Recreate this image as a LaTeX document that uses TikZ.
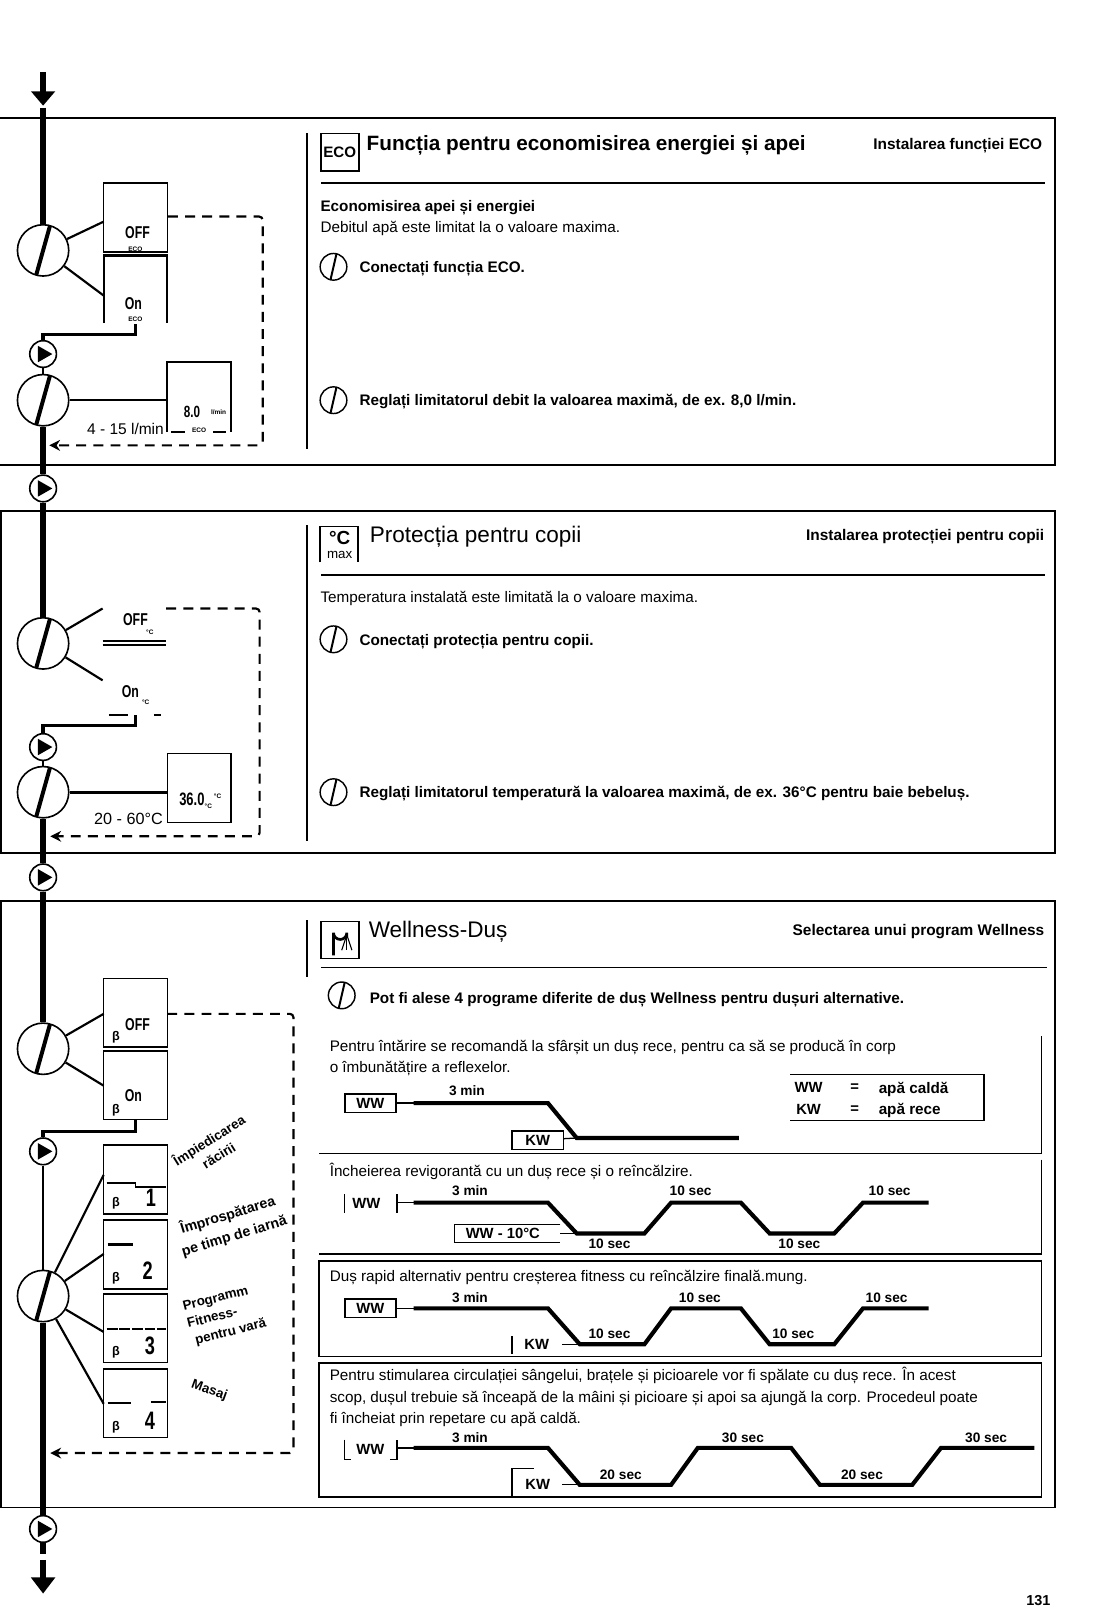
\documentclass[tikz,border=0pt]{standalone}
\usepackage{fontspec}
\setmainfont{Liberation Sans}
\newfontfamily\lcdfont[FakeStretch=0.72]{Liberation Sans}
\usetikzlibrary{arrows.meta, positioning, calc}
\tikzset{
  framebox/.style={draw, line width=0.9pt},
  trunk/.style={line width=2.9pt},
  thinlink/.style={line width=1.2pt},
  dashback/.style={line width=1.2pt, dash pattern=on 5.5pt off 4pt, rounded corners=2pt, -{Stealth[length=6pt,width=6pt]}},
  knob/.style={circle, draw, line width=0.9pt, minimum size=1cm, inner sep=0pt,
    path picture={\draw[line width=2.2pt] ($(path picture bounding box.center)+(7,-25)$) -- ($(path picture bounding box.center)+(-7,25)$);}},
  smallknob/.style={circle, draw, line width=0.8pt, minimum size=0.52cm, inner sep=0pt,
    path picture={\draw[line width=1.1pt] ($(path picture bounding box.center)+(3,-13)$) -- ($(path picture bounding box.center)+(-3,13)$);}},
  playbtn/.style={circle, draw, fill=white, line width=0.9pt, minimum size=0.52cm, inner sep=0pt,
    path picture={\fill[black] ($(path picture bounding box.center)+(-5,-8)$) -- ++(14,8) -- ++(-14,8) -- cycle;}},
  lcdbox/.style={draw, line width=0.8pt, minimum width=1.24cm, minimum height=1.34cm, inner sep=0pt},
  lcdtxt/.style={inner sep=0pt, font=\lcdfont\bfseries\fontsize{9.5}{10}\selectfont},
  lcdnum/.style={inner sep=0pt, font=\lcdfont\bfseries\fontsize{14}{14}\selectfont},
  lcdtiny/.style={inner sep=0pt, font=\bfseries\fontsize{3.6}{4}\selectfont},
  lcdsym/.style={inner sep=0pt, font=\bfseries\fontsize{7}{8}\selectfont},
  lcdbar/.style={line width=1pt},
  plaintxt/.style={anchor=west, inner sep=0pt, text height=1.5ex, text depth=.3ex, font=\fontsize{8.47}{10}\selectfont},
  boldtxt/.style={plaintxt, font=\bfseries\fontsize{8.47}{10}\selectfont},
  headtxt/.style={anchor=east, inner sep=0pt, font=\bfseries\fontsize{8.55}{10}\selectfont},
  titletxt/.style={anchor=west, inner sep=0pt, font=\fontsize{12.5}{14}\selectfont},
  notetxt/.style={inner sep=0pt, align=center, font=\bfseries\fontsize{7.4}{10}\selectfont},
  timetxt/.style={inner sep=0pt, font=\bfseries\fontsize{7.6}{9}\selectfont},
  tagtxt/.style={inner sep=0pt, font=\bfseries\fontsize{8.2}{9}\selectfont},
  tagbox/.style={draw, line width=0.8pt, inner sep=0pt, minimum width=1cm, minimum height=0.36cm, font=\bfseries\fontsize{8.2}{9}\selectfont},
  wave/.style={line width=2.3pt, line join=miter},
  tagline/.style={line width=0.7pt},
}
\begin{document}
\begin{tikzpicture}[x=0.02cm,y=-0.02cm]
  \useasboundingbox (0,0) rectangle (1073,1568);
  \draw[framebox] (0,115) -- (1028,115) -- (1028,453) -- (0,453);
  \draw[framebox] (1,498) rectangle (1028,831);
  \draw[framebox] (1,878) rectangle (1028,1469);
  \coordinate (entry) at (42,70);
  \coordinate (entrytip) at (42,103);
  \coordinate (trunktop) at (42,105);
  \node[knob] (k1) at (42,244) {};
  \node[knob] (k2) at (42,390) {};
  \node[playbtn] (p1) at (42,345) {};
  \node[playbtn] (p2) at (42,476) {};
  \node[knob] (k3) at (42,627) {};
  \node[knob] (k4) at (42,772) {};
  \node[playbtn] (p3) at (42,728) {};
  \node[playbtn] (p4) at (42,855) {};
  \node[knob] (k5) at (42,1022) {};
  \node[knob] (k6) at (42,1263) {};
  \node[playbtn] (p5) at (42,1122) {};
  \node[playbtn] (p6) at (42,1490) {};
  \coordinate (exitstub) at (42,1514);
  \coordinate (exitstart) at (42,1520);
  \coordinate (exittip) at (42,1553);
  \draw[trunk, -{Triangle[length=8pt,width=13pt]}] (entry) -- (entrytip);
  \draw[trunk] (trunktop) -- (k1);
  \draw[trunk] (k2) -- (p2);
  \draw[trunk] (p2) -- (k3);
  \draw[thinlink] (p1) -- (k2);
  \draw[thinlink] (p3) -- (k4);
  \draw[trunk] (k4) -- (p4);
  \draw[trunk] (p4) -- (k5);
  \draw[thinlink] (p5) -- (k6);
  \draw[trunk] (k6) -- (p6);
  \draw[trunk] (p6) -- (exitstub);
  \draw[trunk, -{Triangle[length=9pt,width=13pt]}] (exitstart) -- (exittip);

  \node[lcdbox] (ecooff) at (132,212) {};
  \coordinate (ecoontl) at (101,249);
  \coordinate (ecoontr) at (163,249);
  \coordinate (ecoonbl) at (101,315);
  \coordinate (ecoonbr) at (163,315);
  \draw[thinlink] (ecoonbl) -- (ecoontl) -- (ecoontr) -- (ecoonbr);
  \node[lcdtxt] (ecoofftxt) at (134,227) {OFF};
  \node[lcdtiny] (ecoofftag) at (132,243) {ECO};
  \node[lcdtxt] (ecoontxt) at (130,296) {On};
  \node[lcdtiny] (ecoontag) at (132,311) {ECO};
  \coordinate (ecoonin) at (101,288);
  \coordinate (ecooffin) at (101,216);
  \draw[thinlink] (k1) -- (ecooffin);
  \draw[thinlink] (k1) -- (ecoonin);
  \coordinate (ecosrc) at (132,316);
  \draw[trunk, line width=1.8pt] (ecosrc) -- (132,326) -| (p1);
  \coordinate (flowtl) at (163,353);
  \coordinate (flowtr) at (225,353);
  \coordinate (flowbl) at (163,421);
  \coordinate (flowbr) at (225,421);
  \draw[thinlink] (flowbl) -- (flowtl) -- (flowtr) -- (flowbr);
  \draw[lcdbar] (167,421) -- (180,421);
  \draw[lcdbar] (208,421) -- (220,421);
  \coordinate (flowin) at (163,390);
  \draw[thinlink] (k2) -- (flowin);
  \node[lcdtxt, font=\lcdfont\bfseries\fontsize{9}{10}\selectfont] (flowval) at (187,401) {8.0};
  \node[lcdtiny] (flowunit) at (213,402) {l/min};
  \node[lcdtiny] (flowtag) at (194,419) {ECO};
  \node[anchor=east, inner sep=0pt, font=\fontsize{8.6}{9}\selectfont] (flowrange) at (160,418) {4 - 15 l/min};
  \coordinate (ecoback) at (48,434);
  \draw[dashback] (ecooff.east |- 0,211) -| (256,434) -- (ecoback);

  \draw[framebox] (299,130) -- (299,438);
  \node[draw, line width=1pt, minimum size=0.74cm, inner sep=0pt, font=\bfseries\fontsize{8.4}{9}\selectfont] (ecoicon) at (331,148.5) {ECO};
  \node[titletxt, font=\bfseries\fontsize{11.5}{14}\selectfont] (ecotitle) at (357,142) {Funcția pentru economisirea energiei și apei};
  \node[headtxt] (ecohead) at (1016,142) {Instalarea funcției ECO};
  \draw[framebox, line width=1.1pt] (313,178) -- (1018,178);
  \node[boldtxt] (ecosub) at (312,201) {Economisirea apei și energiei};
  \node[plaintxt] (ecobody) at (312,221) {Debitul apă este limitat la o valoare maxima.};
  \node[smallknob] (ecok1) at (325,260) {};
  \node[boldtxt] (ecostep1) at (350,260) {Conectați funcția ECO.};
  \node[smallknob] (ecok2) at (325,390) {};
  \node[boldtxt] (ecostep2) at (350,390) {Reglați limitatorul debit la valoarea maximă, de ex. 8,0 l/min.};

  \coordinate (kidoffin) at (100,593);
  \coordinate (kidonin) at (100,663);
  \draw[thinlink] (k3) -- (kidoffin);
  \draw[thinlink] (k3) -- (kidonin);
  \node[lcdtxt] (kidofftxt) at (132,604) {OFF};
  \node[lcdtiny] (kidofftag) at (146,616) {°C};
  \draw[thinlink] (100,625) -- (162,625);
  \draw[thinlink] (100,628.5) -- (162,628.5);
  \node[lcdtxt] (kidontxt) at (127,674) {On};
  \node[lcdtiny] (kidontag) at (142,684) {°C};
  \draw[lcdbar] (106,697) -- (125,697);
  \draw[lcdbar] (150,697) -- (157,697);
  \coordinate (kidsrc) at (132,697);
  \draw[trunk, line width=1.8pt] (kidsrc) -- (132,707) -| (p3);
  \node[lcdbox] (kidset) at (194,768) {};
  \draw[trunk, line width=1.8pt] (k4) -- (kidset.west |- k4);
  \node[lcdtxt, font=\lcdfont\bfseries\fontsize{10}{10}\selectfont] (kidval) at (187,779) {36.0};
  \node[lcdtiny] (kidunit) at (212,776) {°C};
  \node[lcdtiny] (kidtag) at (203,786) {°C};
  \node[anchor=east, inner sep=0pt, font=\fontsize{9}{9}\selectfont] (kidrange) at (159,798) {20 - 60°C};
  \coordinate (kidback) at (49,815);
  \coordinate (kidstart) at (162,593);
  \draw[dashback] (kidstart) -| (253,815) -- (kidback);

  \draw[framebox] (299,512) -- (299,820);
  \coordinate (kidicontl) at (312,513);
  \draw[line width=1pt] (312,548) -- (kidicontl) -- (349,513) -- (349,548);
  \node[inner sep=0pt, font=\bfseries\fontsize{10.5}{11}\selectfont] (kidicondeg) at (331,524) {°C};
  \node[inner sep=0pt, font=\fontsize{7.4}{8}\selectfont] (kidiconmax) at (331,541) {max};
  \node[titletxt] (kidtitle) at (360,523) {Protecția pentru copii};
  \node[headtxt] (kidhead) at (1018,523) {Instalarea protecției pentru copii};
  \draw[framebox, line width=1.2pt] (313,560) -- (1018,560);
  \node[plaintxt] (kidbody) at (312,582) {Temperatura instalată este limitată la o valoare maxima.};
  \node[smallknob] (kidk1) at (325,623) {};
  \node[boldtxt] (kidstep1) at (350,623) {Conectați protecția pentru copii.};
  \node[smallknob] (kidk2) at (325,772) {};
  \node[boldtxt] (kidstep2) at (350,772) {Reglați limitatorul temperatură la valoarea maximă, de ex. 36°C pentru baie bebeluș.};

  \node[lcdbox] (welloff) at (132,987) {};
  \node[lcdbox] (wellon) at (132,1057.5) {};
  \coordinate (welloffin) at (101,988);
  \coordinate (wellonin) at (101,1058);
  \draw[thinlink] (k5) -- (welloffin);
  \draw[thinlink] (k5) -- (wellonin);
  \node[lcdtxt] (wellofftxt) at (134,998) {OFF};
  \node[lcdtxt] (wellontxt) at (130,1068) {On};
  \node[lcdsym] (welloffsym) at (113,1011) {β};
  \node[lcdsym] (wellonsym) at (113,1082) {β};
  \draw[trunk, line width=1.8pt] (wellon.south) -- (132,1103) -| (p5);
  \node[lcdbox] (prog1) at (132,1149.5) {};
  \node[lcdbox] (prog2) at (132,1222.5) {};
  \node[lcdbox] (prog3) at (132,1294.5) {};
  \node[lcdbox] (prog4) at (132,1367.5) {};
  \coordinate (prog1in) at (101,1145);
  \coordinate (prog2in) at (101,1222);
  \coordinate (prog3in) at (101,1298);
  \coordinate (prog4in) at (101,1368);
  \draw[thinlink] (k6) -- (prog1in);
  \draw[thinlink] (k6) -- (prog2in);
  \draw[thinlink] (k6) -- (prog3in);
  \draw[thinlink] (k6) -- (prog4in);
  \draw[lcdbar] (104,1153) -- (132,1153) -- (132,1157) -- (162,1157);
  \draw[lcdbar, line width=1.5pt] (105,1213) -- (130,1213);
  \draw[lcdbar, dash pattern=on 6pt off 1pt] (104,1295) -- (162,1295);
  \draw[lcdbar, line width=1.3pt] (105,1367) -- (128,1367);
  \draw[lcdbar] (147,1366) -- (162,1366);
  \node[lcdsym] (prog1sym) at (113,1173) {β};
  \node[lcdsym] (prog2sym) at (113,1246) {β};
  \node[lcdsym] (prog3sym) at (113,1318) {β};
  \node[lcdsym] (prog4sym) at (113,1391) {β};
  \node[lcdnum] (prog1num) at (147,1167) {1};
  \node[lcdnum] (prog2num) at (144,1238) {2};
  \node[lcdnum] (prog3num) at (146,1312) {3};
  \node[lcdnum] (prog4num) at (146,1385) {4};
  \node[notetxt, rotate=32] (note1) at (208,1118) {Împiedicarea\\răcirii};
  \node[notetxt, rotate=17, font=\bfseries\fontsize{7.9}{12}\selectfont] (note2) at (225,1194) {Împrospătarea\\pe timp de iarnă};
  \node[notetxt, rotate=14, align=left] (note3) at (219,1282) {Programm\\Fitness-\\\ pentru vară};
  \node[notetxt, rotate=-20] (note4) at (204,1355) {Masaj};
  \coordinate (wellback) at (49,1416);
  \coordinate (wellstart) at (163,988);
  \draw[dashback] (wellstart) -| (286,1416) -- (wellback);

  \draw[framebox] (299,897) -- (299,952);
  \coordinate (wellicontl) at (313,898);
  \draw[line width=1pt] (wellicontl) rectangle (350,934);
  \draw[line width=1.5pt] (325,931) -- (325,909) arc[start angle=180, end angle=0, radius=6.5] -- (338,913);
  \coordinate (showerhead) at (338,911);
  \coordinate (sprayl) at (333,926);
  \coordinate (sprayc) at (338,926);
  \coordinate (sprayr) at (343,926);
  \draw[line width=0.6pt] (showerhead) -- (sprayl);
  \draw[line width=0.6pt] (showerhead) -- (sprayc);
  \draw[line width=0.6pt] (showerhead) -- (sprayr);
  \node[titletxt] (welltitle) at (359,908) {Wellness-Duș};
  \node[headtxt] (wellhead) at (1018,908) {Selectarea unui program Wellness};
  \draw[framebox] (313,943) -- (1020,943);
  \node[smallknob] (wellk) at (333,970) {};
  \node[boldtxt] (wellstep) at (360,972) {Pot fi alese 4 programe diferite de duș Wellness pentru dușuri alternative.};

  \draw[framebox] (1015,1010) -- (1015,1124) -- (311,1124);
  \draw[framebox] (1015,1130) -- (1015,1222) -- (311,1222);
  \draw[framebox] (311,1229) rectangle (1015,1322);
  \draw[framebox] (311,1328) rectangle (1015,1459);

  \node[plaintxt] (text1a) at (321,1019) {Pentru întărire se recomandă la sfârșit un duș rece, pentru ca să se producă în corp};
  \node[plaintxt] (text1b) at (321,1040) {o îmbunătățire a reflexelor.};
  \node[tagbox] (ww1) at (361,1075) {WW};
  \node[tagbox] (kw1) at (524,1111) {KW};
  \coordinate (a0) at (403,1075);
  \coordinate (a1) at (562,1109);
  \draw[tagline] (ww1) -- (a0);
  \draw[tagline] (kw1) -- (a1);
  \draw[wave] (a0) -- (534,1075) -- (a1) -- (720,1109);
  \node[timetxt] (t1a) at (455,1063) {3 min};
  \draw[framebox] (770,1047) -- (959,1047) -- (959,1092) -- (770,1092);
  \node[tagtxt] (lgww) at (788,1060) {WW};
  \node[tagtxt] (lgeq1) at (833,1060) {=};
  \node[boldtxt] (lgww2) at (856,1060) {apă caldă};
  \node[tagtxt] (lgkw) at (788,1081) {KW};
  \node[tagtxt] (lgeq2) at (833,1081) {=};
  \node[boldtxt] (lgkw2) at (856,1081) {apă rece};

  \node[plaintxt] (text2) at (321,1141) {Încheierea revigorantă cu un duș rece și o reîncălzire.};
  \node[tagtxt] (ww2) at (357,1173) {WW};
  \draw[tagline] (336,1164) -- (336,1182);
  \coordinate (b0) at (403,1172);
  \coordinate (b1) at (562,1202);
  \draw[tagline] (387,1164) -- (387,1182);
  \draw[tagline] (387,1172) -- (b0);
  \node[tagtxt] (ww2c) at (490,1202) {WW - 10°C};
  \draw[tagline] (546,1193) -- (443,1193) -- (443,1211) -- (546,1211);
  \draw[tagline] (546,1202) -- (b1);
  \draw[wave] (b0) -- (534,1172) -- (b1) -- (628,1202) -- (654,1172) -- (722,1172) -- (750,1202) -- (813,1202) -- (841,1172) -- (905,1172);
  \node[timetxt] (t2a) at (458,1160) {3 min};
  \node[timetxt] (t2b) at (673,1160) {10 sec};
  \node[timetxt] (t2c) at (867,1160) {10 sec};
  \node[timetxt] (t2d) at (594,1212) {10 sec};
  \node[timetxt] (t2e) at (779,1212) {10 sec};

  \node[plaintxt] (text3) at (321,1243) {Duș rapid alternativ pentru creșterea fitness cu reîncălzire finală.mung.};
  \node[tagbox] (ww3) at (361,1275) {WW};
  \coordinate (c0) at (403,1275);
  \coordinate (c1) at (565,1310);
  \draw[tagline] (ww3) -- (c0);
  \node[tagtxt] (kw3) at (523,1310) {KW};
  \draw[tagline] (499,1302) -- (499,1319);
  \draw[tagline] (548,1310) -- (c1);
  \draw[wave] (c0) -- (534,1275) -- (c1) -- (628,1310) -- (654,1275) -- (722,1275) -- (750,1310) -- (813,1310) -- (841,1275) -- (905,1275);
  \node[timetxt] (t3a) at (458,1265) {3 min};
  \node[timetxt] (t3b) at (682,1265) {10 sec};
  \node[timetxt] (t3c) at (864,1265) {10 sec};
  \node[timetxt] (t3d) at (594,1300) {10 sec};
  \node[timetxt] (t3e) at (773,1300) {10 sec};

  \node[plaintxt] (text4a) at (321,1340) {Pentru stimularea circulației sângelui, brațele și picioarele vor fi spălate cu duș rece. În acest};
  \node[plaintxt] (text4b) at (321,1361) {scop, dușul trebuie să înceapă de la mâini și picioare și apoi sa ajungă la corp. Procedeul poate};
  \node[plaintxt] (text4c) at (321,1382) {fi încheiat prin repetare cu apă caldă.};
  \node[tagtxt] (ww4) at (361,1412) {WW};
  \draw[tagline] (336,1403) -- (336,1422) -- (342,1422);
  \draw[tagline] (380,1422) -- (387,1422) -- (387,1403);
  \coordinate (d0) at (403,1411);
  \coordinate (d1) at (565,1447);
  \draw[tagline] (387,1411) -- (d0);
  \node[tagtxt] (kw4) at (524,1447) {KW};
  \draw[tagline] (520,1431) -- (499,1431) -- (499,1458) -- (546,1458);
  \draw[tagline] (548,1447) -- (d1);
  \draw[wave] (d0) -- (534,1411) -- (d1) -- (654,1447) -- (680,1411) -- (771,1411) -- (799,1447) -- (889,1447) -- (917,1411) -- (1008,1411);
  \node[timetxt] (t4a) at (458,1401) {3 min};
  \node[timetxt] (t4b) at (724,1401) {30 sec};
  \node[timetxt] (t4c) at (961,1401) {30 sec};
  \node[timetxt] (t4d) at (605,1437) {20 sec};
  \node[timetxt] (t4e) at (840,1437) {20 sec};

  \node[inner sep=0pt, font=\bfseries\fontsize{8}{9}\selectfont] (pagenum) at (1012,1560) {131};
\end{tikzpicture}
\end{document}
